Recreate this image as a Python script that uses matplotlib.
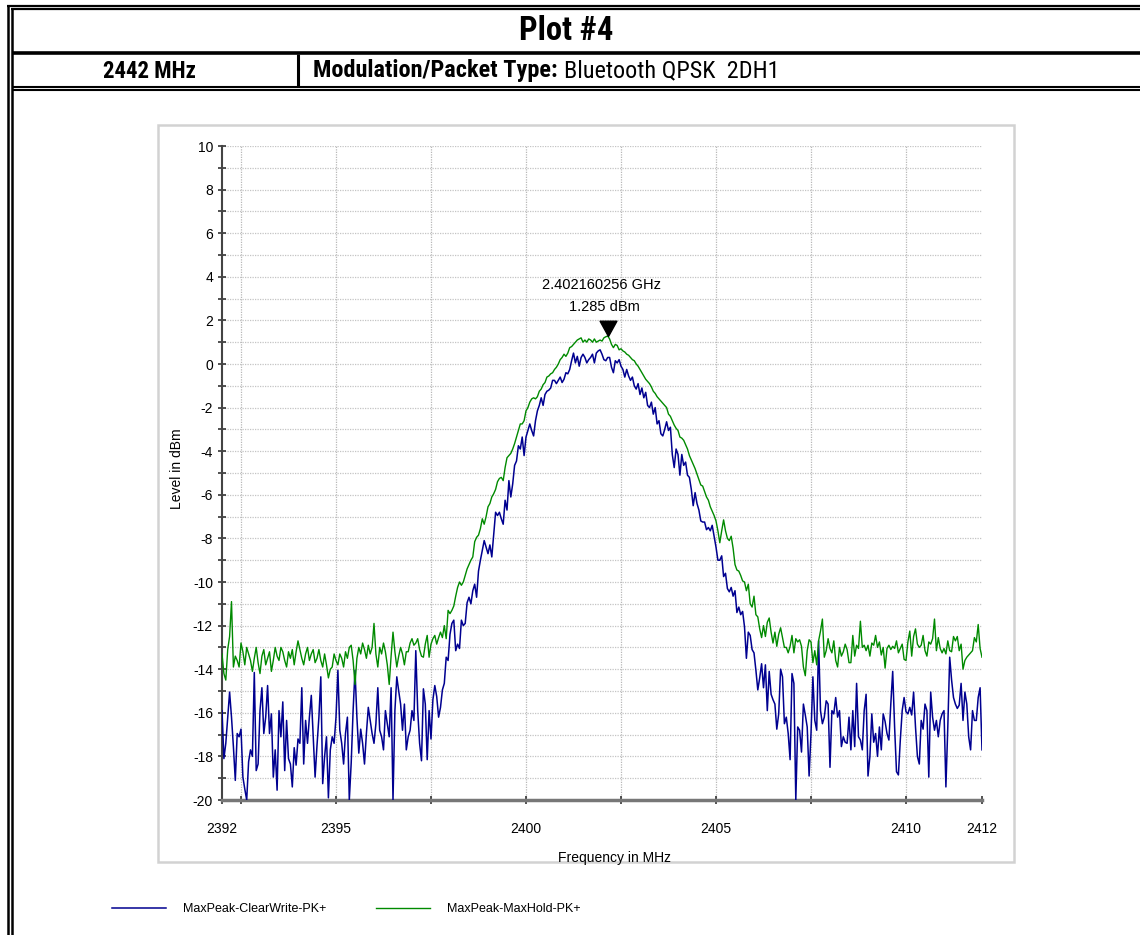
import numpy as np
import matplotlib
matplotlib.use('Agg')
import matplotlib.pyplot as plt
from matplotlib import font_manager as fm

plt.rcParams['font.family'] = ['Liberation Sans', 'DejaVu Sans']
plt.rcParams['axes.unicode_minus'] = False

# trace data, 0.05 MHz apart from 2392 to 2412 MHz
clearwrite = [
    -15.9, -18.1, -17.4, -16.2, -15.05, -16.2, -17.55, -19.1, -16.95, -17.1,
    -16.75, -18.95, -19.5, -20.0, -18.25, -17.7, -18.0, -14.15, -18.65, -18.35,
    -15.9, -14.85, -16.95, -16.2, -14.75, -16.95, -16.05, -18.95, -17.7, -19.55,
    -15.9, -17.1, -15.5, -18.65, -16.35, -18.1, -18.35, -19.4, -17.6, -18.4,
    -17.2, -17.4, -14.85, -18.35, -16.35, -17.4, -16.2, -15.2, -17.1, -18.95,
    -17.5, -16.2, -14.35, -19.25, -18.0, -17.1, -19.9, -17.7, -17.1, -17.4,
    -16.2, -14.05, -16.8, -17.4, -18.35, -16.95, -16.2, -20.0, -18.3, -15.9,
    -14.05, -16.2, -17.85, -16.75, -17.4, -18.35, -16.95, -15.75, -16.35, -16.95,
    -17.4, -16.5, -14.85, -16.8, -17.1, -17.7, -15.9, -16.5, -17.1, -14.85,
    -20.0, -15.9, -14.35, -15.0, -15.6, -16.8, -15.6, -17.7, -17.1, -16.8,
    -15.9, -16.35, -13.15, -15.9, -17.4, -18.2,
    -14.9, -15.6, -18.15, -15.9, -17.2, -15.4, -14.75, -15.25, -16.2, -15.75,
    -14.95, -14.65, -13.45, -13.6, -12.4, -11.9, -11.75, -13.15, -12.85, -13.05,
    -11.75, -12.0, -11.9, -10.95, -10.7, -11.0, -10.4, -10.1, -10.7, -9.5,
    -9.0, -8.55, -8.1, -8.4, -8.7, -8.3, -8.85, -7.85, -6.8, -6.95,
    -6.8, -7.1, -7.35, -6.25, -6.7, -5.35, -6.1, -5.5, -4.65, -4.45,
    -3.75, -3.9, -3.35, -4.2, -3.35, -3.05, -2.75, -3.05, -3.3, -2.6,
    -2.15, -1.9, -1.55, -1.9, -1.4, -1.25, -1.2, -1.1, -0.75, -0.75,
    -0.9, -0.75, -0.6, -0.85, -0.7, -0.4, -0.45, -0.25, 0.15, 0.5,
    0.05, 0.35, -0.1, 0.3, 0.45, 0.3, 0.05, 0.2, 0.3, 0.45,
    0.05, 0.5, 0.6, 0.65, 0.45, 0.2, 0.15, 0.3,
    0.3, -0.15, -0.4, 0.15, 0.05, 0.2, -0.1, -0.25, -0.6, -0.25,
    -0.55, -0.75, -0.6, -1.0, -1.15, -0.9, -1.4, -1.1, -1.55, -1.3,
    -1.9, -2.0, -1.75, -2.3, -2.0, -2.75, -2.6, -3.2, -3.3, -3.0,
    -2.65, -3.05, -2.9, -4.15, -4.75, -3.9, -4.15, -5.1, -4.15, -4.65,
    -4.5, -5.1, -5.2, -5.75, -6.5, -5.9, -6.4, -6.7, -7.2, -7.25,
    -7.25, -7.6, -7.5, -7.65, -7.4, -7.9, -8.4, -9.0, -9.0, -8.8,
    -9.75, -9.6, -10.3, -10.45, -10.25, -10.65, -10.4, -11.4, -11.15, -11.5,
    -11.35, -12.05, -13.5,
    -12.3, -12.45, -13.1, -13.25, -14.05, -14.95, -14.4, -13.75, -14.85, -13.8,
    -15.9, -14.1, -15.15, -15.4, -15.6, -16.75, -16.05, -14.0,
    -14.35, -16.5, -16.2, -16.95, -18.15, -14.2, -14.65, -20.0, -16.65, -16.8,
    -17.8, -15.6, -16.1, -16.65, -18.9, -16.95, -14.35, -16.35, -16.8, -12.7,
    -15.9, -16.5, -16.2, -15.45, -15.6, -18.5, -15.9, -16.05, -15.3, -16.2,
    -15.9, -17.55, -17.1, -17.35, -17.4, -16.2, -17.7, -15.9, -17.55, -14.65,
    -17.1, -17.25, -17.7, -15.9, -15.15, -18.9, -18.0, -16.05, -17.35, -16.95,
    -18.0, -16.65, -17.7, -16.05, -16.4, -16.95, -17.25, -15.6, -14.1, -16.65,
    -18.7, -18.85, -17.25, -15.9, -15.3, -15.95, -16.05, -15.75, -16.1, -15.05,
    -16.65, -18.0, -18.35, -16.35, -16.75, -15.6, -15.9, -18.95, -15.05, -16.2,
    -16.8, -16.35, -17.1, -16.35, -16.05, -15.9, -19.4, -16.65, -13.45, -14.5,
    -15.3, -15.6, -15.8, -15.65, -14.65, -16.35, -15.05, -15.6, -17.1, -17.7,
    -15.9, -16.35, -16.35, -15.3, -14.85, -17.7,
]
maxhold = [
    -13.3, -14.2, -14.5, -13.1, -12.5, -10.9, -13.9, -13.4, -13.6, -13.9,
    -12.8, -13.2, -13.8, -13.0, -13.3, -13.6, -14.1, -13.5, -13.0, -13.7,
    -14.2, -13.4, -13.1, -13.8, -13.5, -13.2, -14.1, -13.6, -13.0, -13.4,
    -13.6, -13.0, -13.2, -13.6, -13.9, -13.2, -13.5, -13.1, -13.8, -13.2,
    -12.7, -13.1, -13.5, -13.8, -13.3, -13.0, -13.6, -13.3, -13.1, -13.7,
    -13.5, -13.1, -13.6, -13.9, -13.3, -13.8, -14.4, -14.0, -13.9, -13.3,
    -13.6, -13.8, -13.3, -13.5, -13.9, -13.2, -13.5, -13.0, -12.9, -13.6,
    -14.7, -13.5, -13.0, -13.3, -12.8, -13.1, -13.5, -12.9, -13.3, -13.0,
    -11.9, -13.3, -13.9, -13.0, -13.3, -12.8, -13.2, -13.8, -14.7, -13.4,
    -12.3, -13.2, -13.9, -13.4, -13.0, -13.3, -13.8, -13.2, -13.2, -12.8,
    -12.6, -12.9, -12.8, -12.6, -13.1, -13.4,
    -13.45, -12.85, -12.45, -13.45, -12.85, -12.6, -12.45, -12.85, -12.55, -12.3,
    -12.55, -12.0, -12.6, -11.3, -11.45, -11.3, -11.1, -10.65, -10.25, -10.0,
    -10.15, -10.0, -9.7, -9.4, -9.2, -9.0,
    -8.85, -8.15, -7.95, -7.85, -7.55, -7.1, -7.35, -7.0, -6.55, -6.4,
    -6.1, -5.95, -5.75, -5.4, -5.25, -5.2, -5.35, -4.75, -4.3, -4.2,
    -4.1, -3.9, -3.65, -3.35, -3.05, -2.75, -2.75, -2.6, -2.15, -2.0,
    -1.75, -1.6, -1.55, -1.6, -1.5, -1.25, -1.15, -0.95, -0.85, -0.6,
    -0.55, -0.45, -0.4, -0.25, -0.15, 0.0, 0.2, 0.3, 0.45, 0.35,
    0.5, 0.75, 0.8, 0.9, 1.0, 1.1, 1.15, 1.2, 1.0, 1.1,
    1.0, 1.15, 1.1, 1.0, 1.15, 1.0, 1.05, 1.1, 1.05, 1.2,
    1.25, 1.285,
    1.15, 0.9, 0.75, 0.9, 0.85, 0.65, 0.7, 0.6, 0.55, 0.45,
    0.4, 0.3, 0.2, 0.15, 0.0, -0.1, -0.25, -0.4, -0.55, -0.7,
    -0.8, -0.9, -1.05, -1.25, -1.35, -1.5, -1.6, -1.7, -1.8, -1.9,
    -2.0, -2.3, -2.4, -2.6, -2.8, -2.95, -3.05, -3.35, -3.4, -3.5,
    -3.7, -3.9, -4.2, -4.4, -4.6, -4.8, -5.05, -5.3, -5.55, -5.6,
    -5.85, -6.1, -6.25, -6.55, -6.75, -6.95, -7.2, -7.65, -8.2, -7.65,
    -7.15, -7.65, -8.0, -8.1, -7.9, -8.45,
    -9.2, -9.45, -9.5, -9.7, -9.95, -10.0, -10.4, -10.1, -11.0, -11.15,
    -10.65, -11.5, -11.6, -12.15, -12.55, -12.0, -12.5, -11.85, -11.65, -12.3,
    -12.8, -12.3, -12.95, -12.4, -12.1, -12.55, -13.0, -13.0, -13.25, -12.95,
    -12.45, -13.25, -12.6, -12.75, -12.65, -12.95, -13.9, -14.3, -13.15, -12.65,
    -12.75, -13.7, -13.15, -13.8, -12.7, -12.25, -11.7, -13.45, -13.15, -12.6,
    -13.05, -13.25, -12.7, -13.6, -13.9, -13.0, -13.4, -13.2, -12.85, -13.1,
    -13.7, -13.7, -12.45, -13.4, -12.9, -13.05, -11.8, -13.0, -12.9, -13.15,
    -12.9, -13.4, -12.8, -12.9, -12.45, -13.0, -12.75, -13.35, -13.0, -13.95,
    -13.05, -12.9, -13.1, -12.95, -13.05, -12.7, -13.25, -13.05, -12.85, -13.55,
    -13.6, -12.75, -12.25, -13.4, -12.5, -12.15, -12.85, -13.0, -12.9, -12.45,
    -13.15, -13.4, -12.75, -12.85, -12.6, -11.7, -13.15, -12.55, -13.05, -13.25,
    -13.05, -13.3, -12.7, -13.15, -13.2, -12.5, -12.7, -12.5, -13.15, -12.85,
    -14.0, -13.6, -13.45, -13.35, -13.25, -13.15, -12.55, -12.75, -11.95, -13.05,
    -13.45,
]
f_start, f_stop = 2392, 2412
marker_freq = 2402.160256
marker_level = 1.285

x_grid = [2392.5, 2395, 2397.5, 2400, 2402.5, 2405, 2407.5, 2410]
x_grid_labels = ['', '2395', '', '2400', '', '2405', '', '2410']
x_edge = [2392, 2412]
series_names = ['MaxPeak-ClearWrite-PK+', 'MaxPeak-MaxHold-PK+']

freq_cw = np.linspace(f_start, f_stop, len(clearwrite))
freq_mh = np.linspace(f_start, f_stop, len(maxhold))


def narrow_font(bold, size):
    # header uses a narrow sans face; take whatever condensed one is installed
    prefs = ['Liberation Sans Narrow', 'Arial Narrow', 'Roboto Condensed',
             'Noto Sans', 'Open Sans', 'DejaVu Sans', 'Roboto']
    found = []
    for f in fm.fontManager.ttflist:
        nm = f.name
        if any(b in nm for b in ['Mono', 'Serif', 'CJK', 'Display']):
            continue
        narrowish = ('Narrow' in nm or 'Condensed' in nm
                     or f.stretch in ('condensed', 'semi-condensed'))
        if not narrowish or f.style != 'normal':
            continue
        w = f.weight if isinstance(f.weight, int) else fm.weight_dict.get(f.weight, 400)
        if bold and not (600 <= w <= 800):
            continue
        if not bold and not (350 <= w <= 500):
            continue
        base = nm.replace(' Narrow', '').replace(' Condensed', '')
        rank = prefs.index(nm) if nm in prefs else (prefs.index(base) + 10 if base in prefs else 50)
        if f.stretch == 'semi-condensed':
            rank += 5
        found.append((rank, f.fname))
    if found:
        found.sort()
        return fm.FontProperties(fname=found[0][1], size=size)
    return fm.FontProperties(family='Liberation Sans',
                             weight='bold' if bold else 'normal', size=size * 0.85)


W, H = 1140, 935
fig = plt.figure(figsize=(W / 100, H / 100), dpi=100)

# page frame (pixel coordinates)
frame = fig.add_axes([0, 0, 1, 1])
frame.set_xlim(0, W)
frame.set_ylim(H, 0)
frame.axis('off')
k = dict(color='black', solid_capstyle='butt')
frame.plot([7, W], [5.8, 5.8], lw=1.6, **k)
frame.plot([10.5, W], [9.0, 9.0], lw=1.6, **k)
frame.plot([8, 8], [5, H], lw=1.8, **k)
frame.plot([11.5, 11.5], [9, H], lw=1.8, **k)
frame.plot([11.5, W], [52.5, 52.5], lw=2.6, **k)
frame.plot([11.5, W], [86.6, 86.6], lw=1.5, **k)
frame.plot([11.5, W], [89.8, 89.8], lw=1.5, **k)
frame.plot([298, 298], [54, 86], lw=2.2, **k)
frame.add_patch(plt.Rectangle((158, 125), 856, 737, fill=False,
                              edgecolor='#d2d2d2', lw=1.8))

frame.text(566, 31, 'Plot #4', ha='center', va='center',
           fontproperties=narrow_font(True, 23.5))
frame.text(149, 71, '2442 MHz', ha='center', va='center',
           fontproperties=narrow_font(True, 16.5))
t_bold = frame.text(313, 71, 'Modulation/Packet Type:', ha='left', va='center',
                    fontproperties=narrow_font(True, 17.5))
fig.canvas.draw()
x_end = t_bold.get_window_extent().x1
frame.text(x_end + 6, 71, 'Bluetooth QPSK  2DH1', ha='left', va='center',
           fontproperties=narrow_font(False, 17.5))

# chart
ax = fig.add_axes([222 / W, 1 - 800 / H, 760 / W, 654 / H])
blue = '#000090'
green = '#008a00'
l1, = ax.plot(freq_cw, clearwrite, color=blue, lw=1.1, zorder=3)
l2, = ax.plot(freq_mh, maxhold, color=green, lw=1.0, zorder=4)

ax.set_xlim(f_start, f_stop)
ax.set_ylim(-20, 10)
ax.set_yticks(np.arange(-20, 11, 2))
ax.set_yticks(np.arange(-19, 10, 2), minor=True)
ax.set_xticks(x_grid, labels=x_grid_labels)
ax.set_xticks(x_edge, labels=[str(v) for v in x_edge], minor=True)

ax.grid(True, which='major', axis='x', color='#b8b8b8', lw=0.9, linestyle=(0, (1, 1)))
ax.grid(True, which='both', axis='y', color='#c4c4c4', lw=0.9, linestyle=(0, (1, 1)))
ax.set_axisbelow(True)

ax.tick_params(axis='both', which='both', direction='inout', length=6,
               width=1.2, color='#333333', labelsize=10)
ax.tick_params(axis='x', which='both', pad=13)
ax.tick_params(axis='y', which='both', pad=3.5)

for s in ['top', 'right']:
    ax.spines[s].set_visible(False)
ax.spines['left'].set_color('#444444')
ax.spines['left'].set_linewidth(1.5)
ax.spines['bottom'].set_color('#777777')
ax.spines['bottom'].set_linewidth(2.5)

ax.set_ylabel('Level in dBm', fontsize=10)
ax.yaxis.set_label_coords(-0.05, 0.506)
ax.set_xlabel('Frequency in MHz', fontsize=10, va='top')
ax.xaxis.set_label_coords(0.517, -0.078)

# peak marker
tri = [(0, 0), (-0.55, 1), (0.55, 1), (0, 0)]
ax.plot([marker_freq], [marker_level], marker=tri, ms=22, color='black',
        linestyle='none', zorder=6, clip_on=False)
ax.annotate(f'{marker_freq / 1000:.9f} GHz', (marker_freq, marker_level),
            xytext=(-7, 51), textcoords='offset pixels', ha='center',
            va='center', fontsize=10.5)
ax.annotate(f'{marker_level:.3f} dBm', (marker_freq, marker_level),
            xytext=(-4, 29), textcoords='offset pixels', ha='center',
            va='center', fontsize=10.5)

fig.legend([l1, l2], series_names, loc='upper left',
           bbox_to_anchor=(112 / W, 1 - 903 / H), ncol=2, frameon=False,
           fontsize=9, handlelength=4.3, handletextpad=1.35,
           columnspacing=4.0, borderpad=0, borderaxespad=0)

fig.savefig('out.png', dpi=100)
